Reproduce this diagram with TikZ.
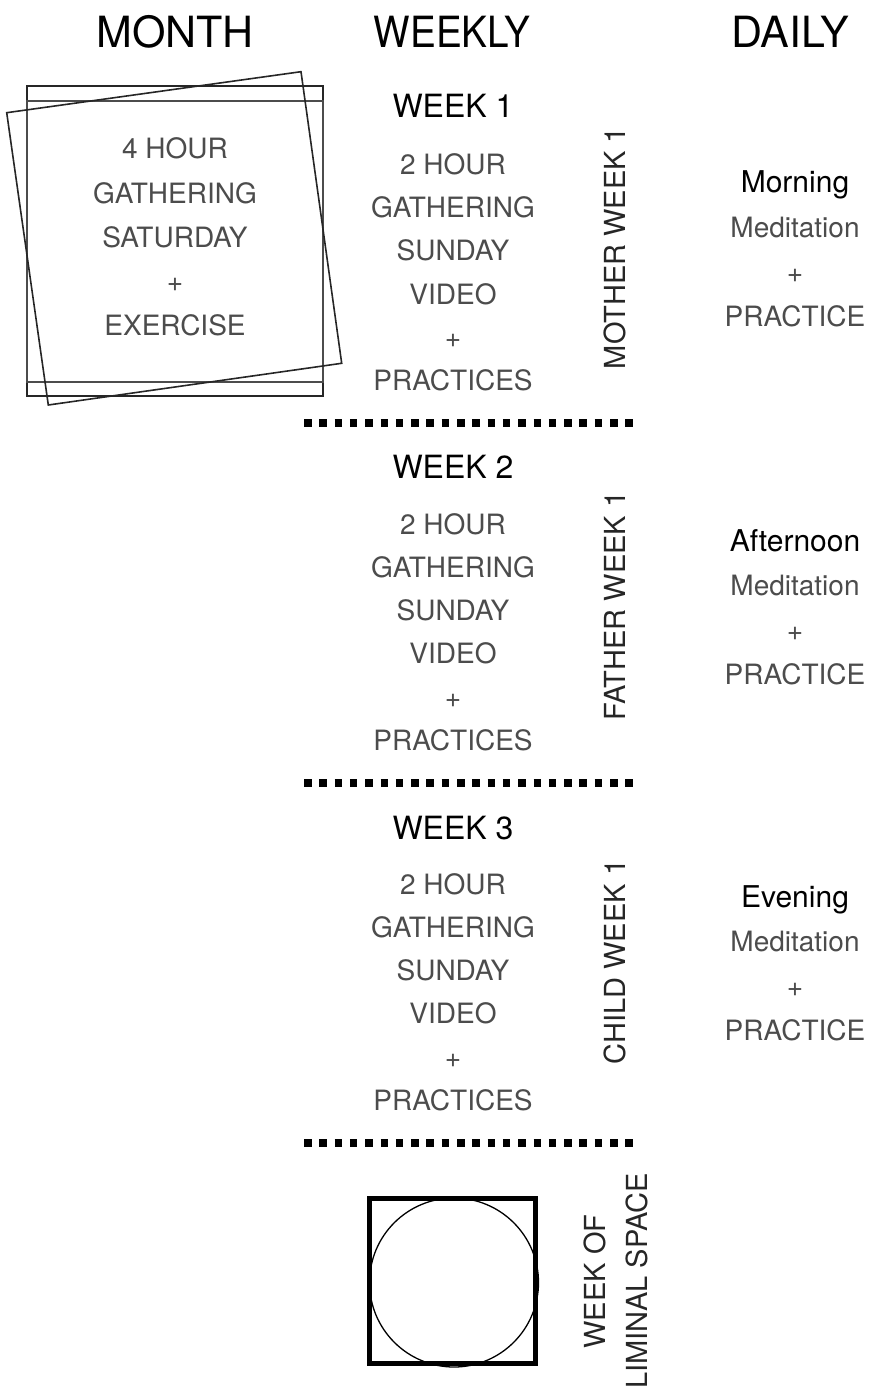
\documentclass[tikz,border=0pt]{standalone}
\usepackage{fontspec}
\setmainfont{TeX Gyre Heros}
\begin{document}
\begin{tikzpicture}[x=1pt,y=-1pt,
  title/.style={font=\fontsize{43}{50}\selectfont, anchor=base, inner sep=0pt},
  whead/.style={font=\fontsize{32}{38}\selectfont, anchor=base, inner sep=0pt},
  dhead/.style={font=\fontsize{30}{36}\selectfont, anchor=base, inner sep=0pt},
  body/.style={font=\fontsize{28}{43.3}\selectfont, align=center, text=black!70, inner sep=0pt},
  dbody/.style={font=\fontsize{28}{44.3}\selectfont, align=center, text=black!70, inner sep=0pt},
  mbody/.style={font=\fontsize{28}{44.25}\selectfont, align=center, text=black!70, inner sep=0pt},
  vlabel/.style={font=\fontsize{29}{36}\selectfont, rotate=90, inner sep=0pt, text=black!85},
  dots/.style={line width=7.5pt, dash pattern=on 7.5pt off 7.8pt},
  frame/.style={line width=1.6pt, black!85},
  thinframe/.style={line width=1.1pt, black!70}]
\useasboundingbox (0,0) rectangle (870,1392);

% column titles
\node[title] (tmonth) at (175,47) {MONTH};
\node[title, xscale=0.9] (tweekly) at (452,47) {WEEKLY};
\node[title] (tdaily) at (790,47) {DAILY};

% month frames
\draw[frame] (27,86) rectangle (323,396);
\draw[thinframe] (27,101) rectangle (323,382);
\draw[frame] (6.7,112.7) -- (301,71.7) -- (341.7,363.3) -- (48.3,405) -- cycle;
\node[mbody] (mtext) at (175,237.2) {4 HOUR\\GATHERING\\SATURDAY\\+\\EXERCISE};

% week 1
\node[whead] (w1) at (453,117) {WEEK 1};
\node[body] (w1b) at (453,272.3) {2 HOUR\\GATHERING\\SUNDAY\\VIDEO\\+\\PRACTICES};
\node[vlabel] (w1v) at (614.5,248) {MOTHER WEEK 1};
\node[dhead] (d1) at (795,192) {Morning};
\node[dbody] (d1b) at (795,272.1) {Meditation\\+\\PRACTICE};

\coordinate (s1a) at (304,423);
\coordinate (s1b) at (632.8,423);
\draw[dots] (s1a) -- (s1b);

% week 2
\node[whead] (w2) at (453,478) {WEEK 2};
\node[body] (w2b) at (453,632.1) {2 HOUR\\GATHERING\\SUNDAY\\VIDEO\\+\\PRACTICES};
\node[vlabel] (w2v) at (614.5,606) {FATHER WEEK 1};
\node[dhead] (d2) at (795,551) {Afternoon};
\node[dbody] (d2b) at (795,630.1) {Meditation\\+\\PRACTICE};

\coordinate (s2a) at (304,783);
\coordinate (s2b) at (632.8,783);
\draw[dots] (s2a) -- (s2b);

% week 3
\node[whead] (w3) at (453,839) {WEEK 3};
\node[body] (w3b) at (453,992.1) {2 HOUR\\GATHERING\\SUNDAY\\VIDEO\\+\\PRACTICES};
\node[vlabel] (w3v) at (614.5,962) {CHILD WEEK 1};
\node[dhead] (d3) at (795,907) {Evening};
\node[dbody] (d3b) at (795,986.1) {Meditation\\+\\PRACTICE};

\coordinate (s3a) at (304,1143);
\coordinate (s3b) at (632.8,1143);
\draw[dots] (s3a) -- (s3b);

% liminal week
\draw[line width=5pt] (369,1198) rectangle (535,1363.5);
\draw[line width=1.3pt] (454,1282.5) circle (84.5);
\node[vlabel] (lw1) at (595,1281.5) {WEEK OF};
\node[vlabel] (lw2) at (636.5,1281) {LIMINAL SPACE};
\end{tikzpicture}
\end{document}
